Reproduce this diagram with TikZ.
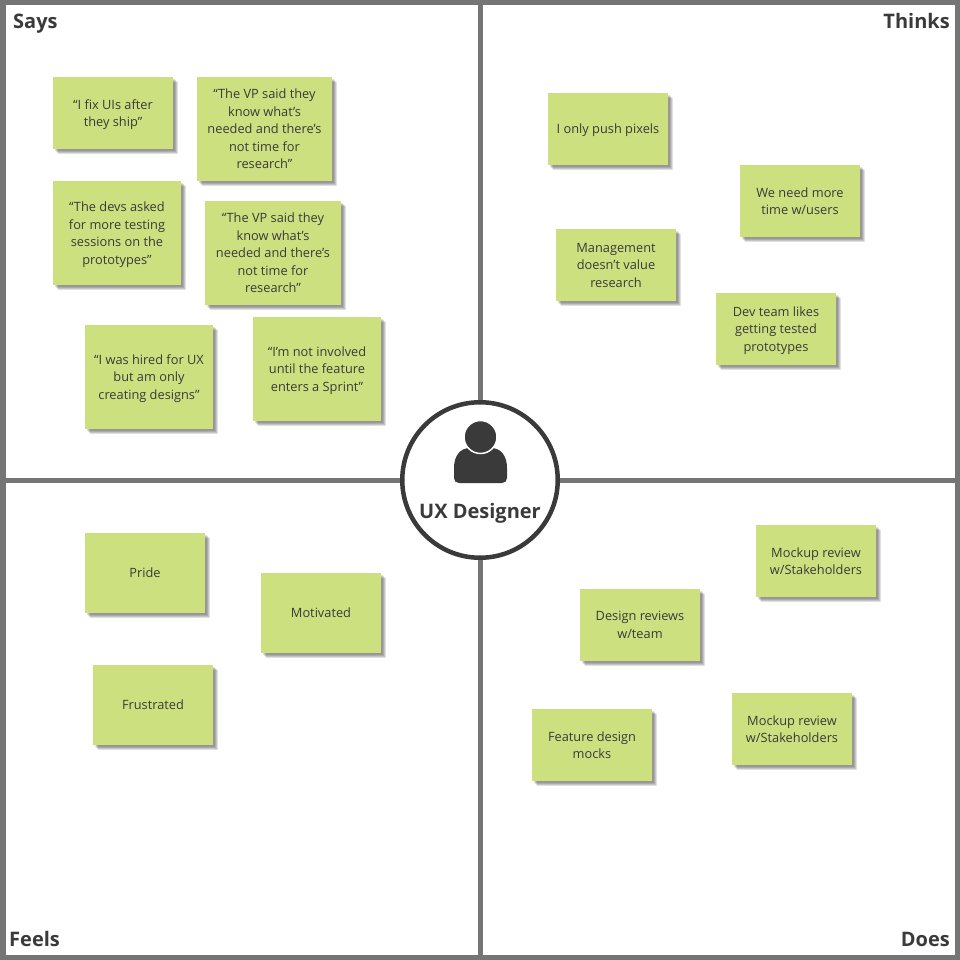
\documentclass[tikz,border=0pt]{standalone}
\usepackage{fontspec}
\setmainfont{Open Sans}
\usetikzlibrary{shadows}
\definecolor{framegray}{HTML}{757575}
\definecolor{notegreen}{HTML}{CDE07F}
\definecolor{inkdark}{HTML}{3A3A3A}
\tikzset{
    softshadow/.style={drop shadow={shadow xshift=#1, shadow yshift=-#1, opacity=0.12, fill=black}},
    sticky/.style={fill=notegreen, text=inkdark, align=center, inner sep=0pt, text depth=0pt,
        font=\fontsize{12.8}{17.5}\selectfont,
        softshadow=5pt, softshadow=4pt, softshadow=3pt, softshadow=2pt},
    quadlabel/.style={text=inkdark, inner sep=0pt, font=\fontsize{20}{24}\selectfont\bfseries}
}

\begin{document}
\begin{tikzpicture}[x=1pt, y=-1pt]
    \useasboundingbox (0,0) rectangle (960,960);
    \fill[white] (0,0) rectangle (960,960);
    \draw[framegray, line width=5.5pt] (2.75,2.75) rectangle (957.25,957.25);
    \draw[framegray, line width=5pt] (480,0) -- (480,960);
    \draw[framegray, line width=5pt] (0,480) -- (960,480);
    % Says
    \node[quadlabel, anchor=base west] (says) at (13,29) {Says};
    \node[sticky, minimum width=120pt, minimum height=72pt] (fix) at (113,113) {“I fix UIs after\\they ship”};
    \node[sticky, minimum width=135pt, minimum height=104pt] (vpa) at (264.5,129) {“The VP said they\\know what’s\\needed and there’s\\not time for\\research”};
    \node[sticky, minimum width=128pt, minimum height=104pt] (devs) at (117,233) {“The devs asked\\for more testing\\sessions on the\\prototypes”};
    \node[sticky, minimum width=136pt, minimum height=104pt] (vpb) at (273,253) {“The VP said they\\know what’s\\needed and there’s\\not time for\\research”};
    \node[sticky, minimum width=128pt, minimum height=104pt] (hired) at (149,377) {“I was hired for UX\\but am only\\creating designs”};
    \node[sticky, minimum width=128pt, minimum height=104pt] (sprint) at (317,369) {“I’m not involved\\until the feature\\enters a Sprint”};
    % Thinks
    \node[quadlabel, anchor=base east] (thinks) at (950,29) {Thinks};
    \node[sticky, minimum width=120pt, minimum height=72pt] (pixels) at (608,129) {I only push pixels};
    \node[sticky, minimum width=120pt, minimum height=72pt] (time) at (800,201) {We need more\\time w/users};
    \node[sticky, minimum width=120pt, minimum height=72pt] (manage) at (616,265) {Management\\doesn’t value\\research};
    \node[sticky, minimum width=120pt, minimum height=72pt] (devteam) at (776,329) {Dev team likes\\getting tested\\prototypes};
    % Feels
    \node[quadlabel, anchor=base west] (feels) at (9,946) {Feels};
    \node[sticky, minimum width=120pt, minimum height=80pt] (pride) at (145,573) {Pride};
    \node[sticky, minimum width=120pt, minimum height=80pt] (motivated) at (321,613) {Motivated};
    \node[sticky, minimum width=120pt, minimum height=80pt] (frustrated) at (153,705) {Frustrated};
    % Does
    \node[quadlabel, anchor=base east] (does) at (950,946) {Does};
    \node[sticky, minimum width=120pt, minimum height=72pt] (mockupa) at (816,561) {Mockup review\\w/Stakeholders};
    \node[sticky, minimum width=120pt, minimum height=72pt] (reviews) at (640,625) {Design reviews\\w/team};
    \node[sticky, minimum width=120pt, minimum height=72pt] (mockupb) at (792,729) {Mockup review\\w/Stakeholders};
    \node[sticky, minimum width=120pt, minimum height=72pt] (mocks) at (592,745) {Feature design\\mocks};
    % centre
    \draw[inkdark, line width=4.5pt, fill=white] (480,480) circle (77.75pt);
    \fill[inkdark] (459,483) .. controls (456,483) and (454,481) .. (454,478)
        -- (454,468) .. controls (454,456) and (460,448) .. (470,448)
        -- (491,448) .. controls (501,448) and (507,456) .. (507,468)
        -- (507,478) .. controls (507,481) and (505,483) .. (502,483) -- cycle;
    \fill[inkdark, draw=white, line width=1.5pt] (480.5,437) circle (16.5pt);
    \node[text=inkdark, inner sep=0pt, font=\fontsize{20}{24}\selectfont\bfseries, anchor=base] (designer) at (480,518) {UX Designer};
\end{tikzpicture}
\end{document}
